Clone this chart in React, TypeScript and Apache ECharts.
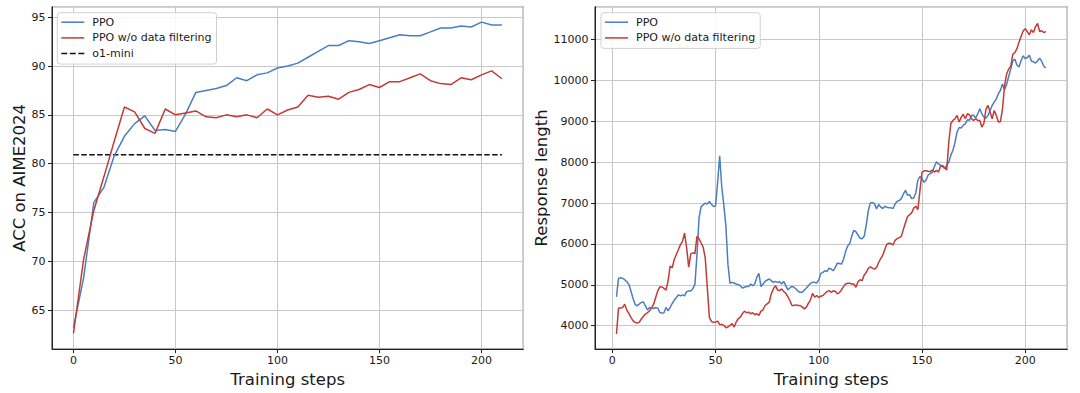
import React, { useEffect, useRef } from "react";
import * as echarts from "echarts";

// ---------- Left panel: ACC on AIME2024 ----------
const accSteps = [0, 5, 10, 15, 20, 25, 30, 35, 40, 45, 50, 55, 60, 65, 70, 75, 80, 85, 90, 95, 100, 105, 110, 115, 120, 125, 130, 135, 140, 145, 150, 155, 160, 165, 170, 175, 180, 185, 190, 195, 200, 205, 210];
const ppoAcc = [63.2, 68.3, 76.0, 77.6, 80.8, 82.8, 84.1, 84.9, 83.4, 83.5, 83.3, 85.1, 87.3, 87.5, 87.7, 88.0, 88.8, 88.5, 89.1, 89.3, 89.8, 90.0, 90.3, 90.9, 91.5, 92.1, 92.1, 92.6, 92.5, 92.3, 92.6, 92.9, 93.2, 93.1, 93.1, 93.5, 93.9, 93.9, 94.1, 94.0, 94.5, 94.2, 94.2];
const noFilterAcc = [62.6, 70.2, 75.2, 78.7, 82.3, 85.8, 85.3, 83.6, 83.1, 85.6, 85.0, 85.2, 85.4, 84.8, 84.7, 85.0, 84.8, 85.0, 84.7, 85.6, 85.0, 85.5, 85.8, 87.0, 86.8, 86.9, 86.6, 87.3, 87.6, 88.1, 87.8, 88.4, 88.4, 88.8, 89.2, 88.5, 88.2, 88.1, 88.8, 88.6, 89.1, 89.5, 88.7];
const o1MiniSteps = [0, 210];
const o1MiniAcc = 80.9;

// ---------- Right panel: Response length (steps 2..210) ----------
const lenFirstStep = 2;
const ppoLen = [
  4705, 5158, 5175, 5158, 5125, 5077, 5012, 4850, 4672,
  4527, 4486, 4527, 4567, 4583, 4486, 4389, 4446, 4430, 4421,
  4446, 4430, 4324, 4308, 4316, 4446, 4365, 4446, 4543, 4624,
  4689, 4753, 4729, 4753, 4729, 4834, 4850, 4850, 4907, 5012,
  5740, 6630, 6916, 6956, 7000, 6980, 7040, 6970, 6916, 6930,
  7500, 8160, 7400, 6950, 6450, 5500, 5040, 5061, 5045, 5020,
  5004, 4980, 4923, 4940, 4964, 4956, 5020, 4980, 5020, 5183,
  5280, 4956, 5020, 5085, 5118, 5142, 5102, 5061, 5085, 5061,
  5077, 5020, 5085, 4980, 4875, 4923, 4964, 4940, 4899, 4842,
  4818, 4818, 4875, 4923, 4980, 5037, 5061, 5061, 5045, 5120,
  5280, 5304, 5345, 5328, 5410, 5385, 5345, 5426, 5531, 5523,
  5507, 5628, 5814, 5952, 6009, 6195, 6333, 6300, 6220, 6138,
  6130, 6187, 6462, 6819, 7005, 7013, 6981, 6859, 6965, 6908,
  6867, 6924, 6900, 6884, 6884, 6867, 6981, 7046, 7062, 7110,
  7224, 7313, 7191, 7208, 7110, 7126, 7250, 7560, 7648, 7607,
  7510, 7567, 7689, 7720, 7753, 7891, 8013, 7960, 7932, 7891,
  7851, 7932, 8000, 8175, 8296, 8482, 8742, 8850, 8839, 8904,
  8944, 9040, 9030, 9147, 9150, 9080, 9187, 9309, 9187, 9106,
  9080, 9147, 9268, 9390, 9471, 9552, 9673, 9760, 9916, 9780,
  9900, 10100, 10280, 10483, 10524, 10380, 10330, 10483, 10605, 10540,
  10560, 10620, 10480, 10460, 10430, 10480, 10550, 10470, 10350, 10310,
];
const noFilterLen = [
  3798, 4430, 4430, 4446, 4527, 4381, 4300, 4203, 4122,
  4081, 4065, 4081, 4162, 4227, 4284, 4316, 4365, 4430, 4527,
  4689, 4850, 4948, 4948, 4915, 4867, 5094, 5458, 5418, 5620,
  5742, 5863, 5985, 6066, 6268, 5904, 5434, 5758, 5782, 5766,
  6187, 6130, 6025, 5920, 5660, 4931, 4203, 4105, 4081, 4089,
  4113, 4032, 4032, 4008, 3951, 3968, 4008, 4049, 3968, 4089,
  4170, 4210, 4292, 4356, 4316, 4332, 4292, 4316, 4267, 4292,
  4251, 4356, 4389, 4494, 4535, 4575, 4778, 4899, 4980, 4875,
  4859, 4899, 4842, 4794, 4713, 4616, 4494, 4494, 4510, 4494,
  4494, 4454, 4413, 4454, 4551, 4632, 4794, 4697, 4740, 4689,
  4721, 4737, 4786, 4834, 4859, 4818, 4850, 4842, 4778, 4810,
  4875, 4956, 5020, 5037, 5037, 5020, 5020, 4940, 5077, 5126,
  5102, 5239, 5304, 5401, 5442, 5410, 5385, 5426, 5547, 5644,
  5725, 5871, 5993, 6017, 6009, 5976, 6090, 6130, 6155, 6187,
  6357, 6519, 6673, 6714, 6762, 6878, 6924, 6838, 7300, 7750,
  7790, 7794, 7780, 7770, 7810, 7760, 7800, 7760, 7900, 7920,
  7860, 7810, 8500, 8950, 9025, 9066, 9147, 8985, 9100, 9175,
  9066, 9187, 9163, 9066, 9025, 9066, 9025, 9025, 8863, 8950,
  9300, 9390, 9228, 9066, 9268, 9147, 8985, 9000, 9300, 9876,
  10159, 10281, 10350, 10645, 10686, 10780, 10940, 11080, 11212, 11270,
  11200, 11120, 11240, 11175, 11320, 11400, 11200, 11220, 11175, 11200,
];

const BLUE = "#4a7ec0";
const RED = "#c43a36";
const FONT = "DejaVu Sans";
const TXT = "#1a1a1a";
const GRIDC = "#c8c8c8";

const SOLID_ICON = "path://M0,0H23V1.5H0Z";
const DASH_ICON = "path://M0,0H5.5V1.5H0Z M7.9,0H13.4V1.5H7.9Z M15.8,0H21.3V1.5H15.8Z";

function axisCommon(extra: any) {
  return {
    type: "value",
    axisLine: { show: true, onZero: false, lineStyle: { color: "#222", width: 1 } },
    axisTick: { show: true, inside: false, length: 4, lineStyle: { color: "#222", width: 1 } },
    splitLine: { show: true, lineStyle: { color: GRIDC, width: 1 } },
    nameTextStyle: { color: TXT, fontFamily: FONT, fontSize: 16.5 },
    ...extra,
  };
}

function labelStyle(margin: number) {
  return {
    color: TXT,
    fontFamily: FONT,
    fontSize: 11,
    margin,
    showMinLabel: false,
    showMaxLabel: false,
    formatter: (v: number) => String(v),
  };
}

function legendCommon(extra: any) {
  return {
    orient: "vertical",
    itemWidth: 23,
    itemHeight: 1.5,
    itemGap: 4.7,
    symbolKeepAspect: false,
    backgroundColor: "rgba(255,255,255,0.85)",
    borderColor: "#d0d0d0",
    borderWidth: 1,
    borderRadius: 3,
    padding: [4, 5, 5, 4],
    textStyle: { color: TXT, fontFamily: FONT, fontSize: 11, lineHeight: 11, padding: [0, 0, 0, 3] },
    ...extra,
  };
}

export default function App() {
  const ref = useRef<HTMLDivElement>(null);

  useEffect(() => {
    if (!ref.current) return;
    const chart = echarts.init(ref.current, undefined, { renderer: "svg" });

    const accPairs = (vals: number[]) => vals.map((v, i) => [accSteps[i], v]);
    const lenPairs = (vals: number[]) => vals.map((v, i) => [lenFirstStep + i, v]);

    chart.setOption({
      animation: false,
      backgroundColor: "#ffffff",
      textStyle: { fontFamily: FONT },
      grid: [
        { left: 52, right: 556.7, top: 6.7, bottom: 41, show: true, borderColor: "#222", borderWidth: 1, backgroundColor: "transparent" },
        { left: 595, right: 12.7, top: 6.7, bottom: 40.7, show: true, borderColor: "#222", borderWidth: 1, backgroundColor: "transparent" },
      ],
      xAxis: [
        axisCommon({
          gridIndex: 0,
          min: -10.5,
          max: 220.5,
          minInterval: 50,
          maxInterval: 50,
          name: "Training steps",
          nameLocation: "middle",
          nameGap: 18,
          axisLabel: labelStyle(6),
        }),
        axisCommon({
          gridIndex: 1,
          min: -8.4,
          max: 220.4,
          minInterval: 50,
          maxInterval: 50,
          name: "Training steps",
          nameLocation: "middle",
          nameGap: 18,
          axisLabel: labelStyle(6),
        }),
      ],
      yAxis: [
        axisCommon({
          gridIndex: 0,
          min: 61.0,
          max: 96.08,
          minInterval: 5,
          maxInterval: 5,
          name: "ACC on AIME2024",
          nameLocation: "middle",
          nameGap: 22.5,
          axisLabel: labelStyle(6.5),
        }),
        axisCommon({
          gridIndex: 1,
          min: 3427,
          max: 11808,
          minInterval: 1000,
          maxInterval: 1000,
          name: "Response length",
          nameLocation: "middle",
          nameGap: 43.5,
          axisLabel: labelStyle(6.5),
        }),
      ],
      legend: [
        legendCommon({
          left: 57.3,
          top: 12.7,
          data: [
            { name: "PPO", icon: SOLID_ICON },
            { name: "PPO w/o data filtering", icon: SOLID_ICON },
            { name: "o1-mini", icon: DASH_ICON },
          ],
        }),
        legendCommon({
          left: 601,
          top: 12.7,
          data: [
            { name: "PPO", icon: SOLID_ICON },
            { name: "PPO w/o data filtering", icon: SOLID_ICON },
          ],
        }),
      ],
      series: [
        {
          name: "PPO",
          type: "line",
          xAxisIndex: 0,
          yAxisIndex: 0,
          data: accPairs(ppoAcc),
          symbol: "none",
          lineStyle: { color: BLUE, width: 1.5 },
          itemStyle: { color: BLUE },
          z: 3,
        },
        {
          name: "PPO w/o data filtering",
          type: "line",
          xAxisIndex: 0,
          yAxisIndex: 0,
          data: accPairs(noFilterAcc),
          symbol: "none",
          lineStyle: { color: RED, width: 1.5 },
          itemStyle: { color: RED },
          z: 4,
        },
        {
          name: "o1-mini",
          type: "line",
          xAxisIndex: 0,
          yAxisIndex: 0,
          data: o1MiniSteps.map((s) => [s, o1MiniAcc]),
          symbol: "none",
          lineStyle: { color: "#111", width: 1.5, type: [5.5, 2.4] },
          itemStyle: { color: "#111" },
          z: 2,
        },
        {
          name: "PPO",
          type: "line",
          xAxisIndex: 1,
          yAxisIndex: 1,
          data: lenPairs(ppoLen),
          symbol: "none",
          lineStyle: { color: BLUE, width: 1.5 },
          itemStyle: { color: BLUE },
          z: 3,
        },
        {
          name: "PPO w/o data filtering",
          type: "line",
          xAxisIndex: 1,
          yAxisIndex: 1,
          data: lenPairs(noFilterLen),
          symbol: "none",
          lineStyle: { color: RED, width: 1.5 },
          itemStyle: { color: RED },
          z: 4,
        },
      ],
    });

    return () => chart.dispose();
  }, []);

  return <div ref={ref} style={{ width: 1080, height: 393, position: "absolute", left: 0, top: 0 }} />;
}
